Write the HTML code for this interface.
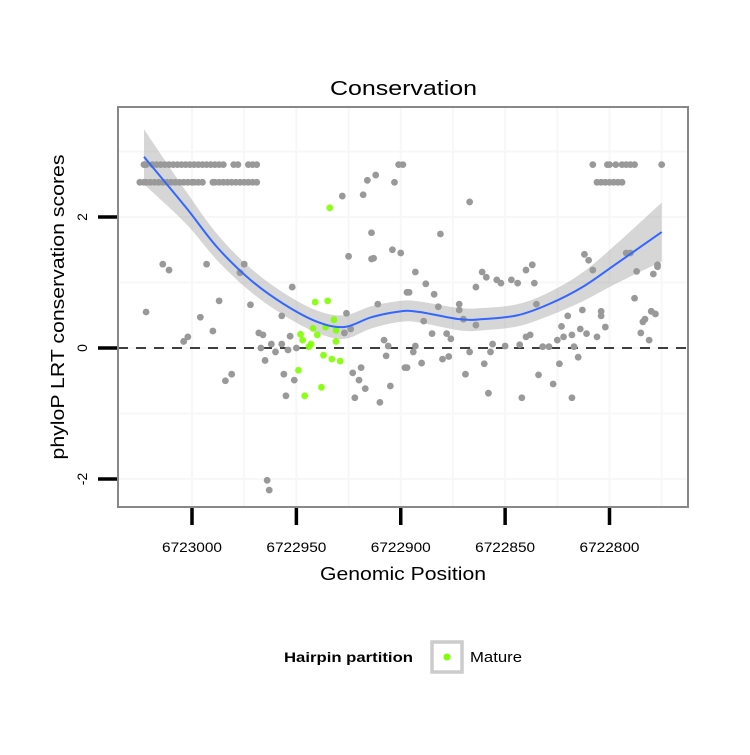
<!DOCTYPE html>
<html><head><meta charset="utf-8"><style>
body{margin:0;background:#fff;}
svg text{font-family:"Liberation Sans",sans-serif;}
</style></head><body>
<svg id="chart" width="750" height="750" viewBox="0 0 750 750" xmlns="http://www.w3.org/2000/svg">
<rect x="0" y="0" width="750" height="750" fill="#fff"/>
<text x="403.5" y="95" font-size="20" text-anchor="middle" textLength="147" lengthAdjust="spacingAndGlyphs">Conservation</text>
<g id="grid"></g>
<g id="band"></g>
<line id="zeroline" stroke="#000" stroke-width="1.6" stroke-dasharray="10,8"/>
<g id="pts"></g>
<g id="fit"></g>
<rect x="118" y="107" width="570" height="400" fill="none" stroke="#888" stroke-width="2"/>
<g id="axes"></g>
<text x="403" y="580" font-size="18.5" text-anchor="middle" textLength="166" lengthAdjust="spacingAndGlyphs">Genomic Position</text>
<text transform="translate(64,307) rotate(-90)" font-size="18.5" text-anchor="middle" textLength="305" lengthAdjust="spacingAndGlyphs">phyloP LRT conservation scores</text>
<g>
<text x="284" y="662" font-size="14" font-weight="bold" textLength="129" lengthAdjust="spacingAndGlyphs">Hairpin partition</text>
<rect x="432" y="642" width="30" height="30" fill="#fff" stroke="#ccc" stroke-width="3.5"/>
<circle cx="447" cy="657" r="3.5" fill="#7fff00"/>
<text x="470" y="662" font-size="14.5" textLength="52" lengthAdjust="spacingAndGlyphs">Mature</text>
</g>
</svg>
<script>
const xTicks=[6723000,6722950,6722900,6722850,6722800];
const xTickLabels=["6723000","6722950","6722900","6722850","6722800"];
const yTicks=[2,0,-2];
const yTickLabels=["2","0","-2"];
const grayPos=[6723023,6723022,6723019,6723017,6723015,6723013,6723011,6723009,6723007,6723005,6723003,6723001,6722999,6722997,6722995,6722993,6722991,6722989,6722987,6722985,6722980,6722978,6722973,6722971,6722969,6722901,6722899,6722808,6722801,6722800,6722797,6722794,6722792,6722790,6722788,6722775,
6723025,6723023,6723022,6723020,6723018,6723016,6723014,6723012,6723010,6723008,6723006,6723004,6723002,6723000,6722999,6722997,6722995,6722990,6722989,6722987,6722985,6722983,6722981,6722979,6722977,6722975,6722973,6722971,6722969,6722903,6722806,6722804,6722802,6722800,6722798,6722796,6722794,
6723022,6723014,6723011,6722993,6722987,6722996,6722990,6723004,6723002,6722984,6722981,6722975,6722977,6722972,6722968,6722966,6722967,6722965,6722962,6722960,6722957,6722964,6722963,6722957,6722952,6722953,6722954,6722950,6722956,6722951,6722955,6722926,6722927,6722924,6722925,6722928,6722918,6722916,6722912,6722914,6722914,6722913,6722904,6722900,6722911,6722908,6722906,6722907,6722923,6722919,6722920,6722917,6722922,6722910,6722905,6722898,6722897,
6722893,6722888,6722896,6722884,6722882,6722889,6722885,6722893,6722894,6722897,6722890,6722881,6722878,6722876,6722880,6722877,6722872,6722872,6722870,6722864,6722867,6722869,6722858,6722860,6722857,6722856,6722850,6722867,6722864,6722861,6722859,6722854,6722852,6722847,6722844,6722840,6722837,6722836,6722835,6722843,6722840,6722838,6722842,6722834,6722827,6722824,6722832,6722829,6722825,6722822,6722823,6722820,6722818,6722817,6722815,6722818,6722813,6722814,6722811,6722812,6722810,6722808,6722806,6722804,6722804,6722802,6722792,6722790,6722787,6722788,6722783,6722784,6722785,6722781,6722780,6722778,6722779,6722777,6722777];
const grayScore=[2.8,2.8,2.8,2.8,2.8,2.8,2.8,2.8,2.8,2.8,2.8,2.8,2.8,2.8,2.8,2.8,2.8,2.8,2.8,2.8,2.8,2.8,2.8,2.8,2.8,2.8,2.8,2.8,2.8,2.8,2.8,2.8,2.8,2.8,2.8,2.8,
2.53,2.53,2.53,2.53,2.53,2.53,2.53,2.53,2.53,2.53,2.53,2.53,2.53,2.53,2.53,2.53,2.53,2.53,2.53,2.53,2.53,2.53,2.53,2.53,2.53,2.53,2.53,2.53,2.53,2.53,2.53,2.53,2.53,2.53,2.53,2.53,2.53,
0.55,1.28,1.19,1.28,0.72,0.47,0.26,0.1,0.17,-0.5,-0.4,1.28,1.15,0.66,0.23,0.2,0.0,-0.19,0.06,-0.06,0.06,-2.02,-2.17,0.49,0.93,0.18,-0.03,0.0,-0.4,-0.49,-0.73,0.53,0.23,0.29,1.4,2.32,2.34,2.56,2.64,1.76,1.36,1.37,1.5,1.45,0.67,0.12,0.03,-0.12,-0.38,-0.3,-0.49,-0.62,-0.76,-0.83,-0.58,-0.3,0.85,
1.16,0.98,0.85,0.82,0.63,0.41,0.22,0.03,-0.06,-0.3,-0.23,1.74,0.22,0.14,-0.17,-0.13,0.67,0.58,0.44,0.35,-0.06,-0.4,-0.69,-0.24,-0.06,0.06,0.03,2.23,0.93,1.16,1.08,1.04,0.99,1.04,0.99,1.19,1.27,0.99,0.67,0.05,0.17,0.2,-0.76,-0.41,-0.55,-0.24,0.02,0.02,0.12,0.17,0.33,0.49,0.2,0.02,-0.14,-0.76,0.58,0.29,0.22,1.43,1.34,1.19,0.17,0.56,0.49,0.32,1.45,1.45,1.17,0.76,0.44,0.4,0.23,0.12,0.56,0.52,1.13,1.27,1.24];
const maturePos=[6722934,6722941,6722935,6722932,6722936,6722942,6722931,6722940,6722948,6722947,6722943,6722944,6722931,6722937,6722933,6722929,6722949,6722938,6722946];
const matureScore=[2.14,0.7,0.72,0.43,0.32,0.3,0.27,0.2,0.21,0.12,0.06,0.02,0.1,-0.11,-0.17,-0.2,-0.34,-0.6,-0.73];
const fitPos=[6723023,6723003,6722988,6722972,6722956,6722940,6722927,6722914,6722900,6722891,6722872,6722861,6722844,6722829,6722813,6722797,6722775];
const fitScore=[2.92,2.15,1.54,1.04,0.67,0.40,0.32,0.47,0.56,0.55,0.44,0.44,0.50,0.67,0.93,1.28,1.77];
const fitSe=[0.42,0.25,0.2,0.18,0.17,0.17,0.18,0.17,0.16,0.16,0.17,0.17,0.17,0.18,0.22,0.3,0.45];

const NS="http://www.w3.org/2000/svg";
const xScale=v=>192+(6723000-v)*2.0875;
const yScale=v=>348-v*65.5;
const mk=(tag,attrs,parent)=>{const e=document.createElementNS(NS,tag);for(const k in attrs)e.setAttribute(k,attrs[k]);parent.appendChild(e);return e;};
const grid=document.getElementById('grid');
[-2,-1,0,1,2,3].forEach(v=>{const l=mk('line',{x1:118,x2:688,y1:yScale(v),y2:yScale(v),stroke:'#f7f7f7','stroke-width':2},grid);

});
[6723000,6722975,6722950,6722925,6722900,6722875,6722850,6722825,6722800,6722775].forEach(v=>{const l=mk('line',{y1:107,y2:507,x1:xScale(v),x2:xScale(v),stroke:'#f7f7f7','stroke-width':2},grid);

});
const z=document.getElementById('zeroline');
z.setAttribute('x1',118);z.setAttribute('x2',688);z.setAttribute('y1',yScale(0));z.setAttribute('y2',yScale(0));
const pts=document.getElementById('pts');
grayPos.forEach((p,i)=>{const c=mk('circle',{cx:xScale(p),cy:yScale(grayScore[i]),r:3.4,fill:'#999'},pts);

});
maturePos.forEach((p,i)=>{const c=mk('circle',{cx:xScale(p),cy:yScale(matureScore[i]),r:3.4,fill:'#7fff00','fill-opacity':0.9},pts);

});
function curve(P){let d='M'+P[0][0]+','+P[0][1];for(let i=0;i<P.length-1;i++){const p0=P[Math.max(0,i-1)],p1=P[i],p2=P[i+1],p3=P[Math.min(P.length-1,i+2)];
const c1=[p1[0]+(p2[0]-p0[0])/6,p1[1]+(p2[1]-p0[1])/6],c2=[p2[0]-(p3[0]-p1[0])/6,p2[1]-(p3[1]-p1[1])/6];
d+=' C'+c1[0]+','+c1[1]+' '+c2[0]+','+c2[1]+' '+p2[0]+','+p2[1];}return d;}
const mid=fitPos.map((p,i)=>[xScale(p),yScale(fitScore[i])]);
const up=fitPos.map((p,i)=>[xScale(p),yScale(fitScore[i]+fitSe[i])]);
const lo=fitPos.map((p,i)=>[xScale(p),yScale(fitScore[i]-fitSe[i])]).reverse();
const bd=curve(up)+' L'+lo[0][0]+','+lo[0][1]+curve(lo).replace(/^M[^ C]+/,'')+' Z';
const band=mk('path',{d:bd,fill:'#999','fill-opacity':0.4},document.getElementById('band'));


const fl=mk('path',{d:curve(mid),fill:'none',stroke:'#3366ff','stroke-width':2},document.getElementById('fit'));


const ax=document.getElementById('axes');
xTicks.forEach((v,i)=>{const t=mk('line',{x1:xScale(v),x2:xScale(v),y1:508,y2:525,stroke:'#000','stroke-width':3.5},ax);


const l=mk('text',{x:xScale(v),y:552,'font-size':14,'text-anchor':'middle',textLength:60,lengthAdjust:'spacingAndGlyphs'},ax);l.textContent=xTickLabels[i];

});
yTicks.forEach((v,i)=>{const t=mk('line',{x1:98,x2:117,y1:yScale(v),y2:yScale(v),stroke:'#000','stroke-width':3.5},ax);


const l=mk('text',{transform:'translate(87,'+yScale(v)+') rotate(-90)','font-size':14,'text-anchor':'middle'},ax);l.textContent=yTickLabels[i];

});
</script>
</body></html>
